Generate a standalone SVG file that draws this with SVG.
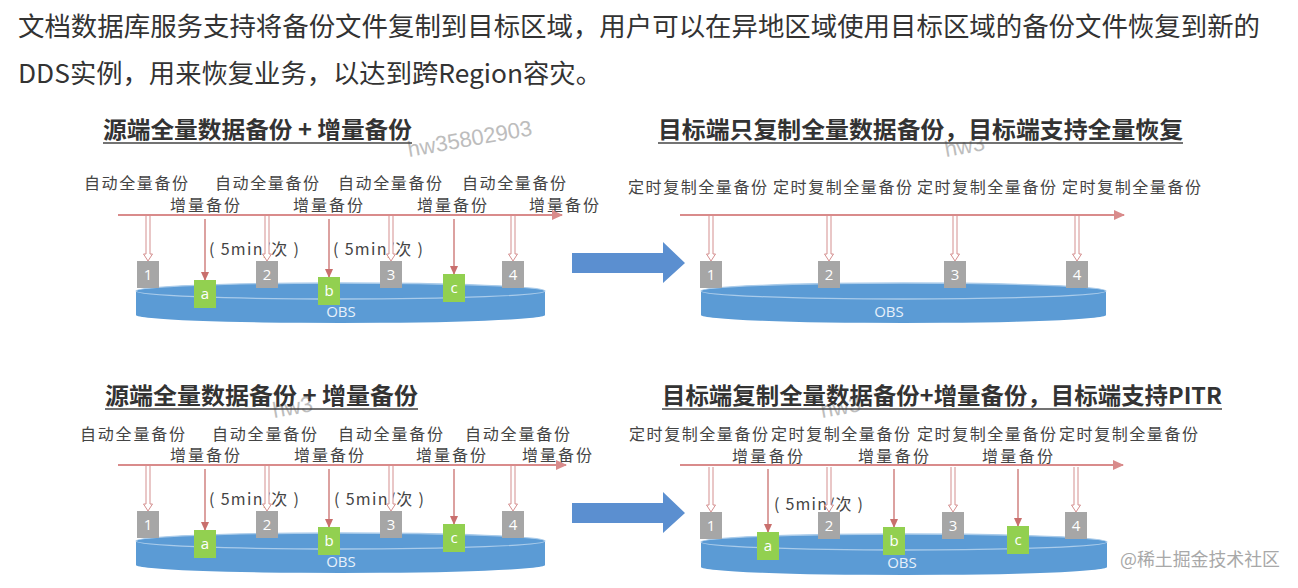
<svg xmlns="http://www.w3.org/2000/svg" width="1298" height="588" viewBox="0 0 1298 588">
<style>
text{font-family:"Noto Sans CJK SC","Noto Sans",sans-serif}
.hdr{font-size:26px;fill:#333}
.ttl{font-size:23px;font-weight:bold;fill:#333}
.ul{stroke:#444;stroke-width:1.6}
.lbl{font-size:16px;fill:#444}
.gb{fill:#A6A6A6}
.nb{fill:#92D050}
.bt{font-family:"Open Sans","Noto Sans",sans-serif;font-size:15px;fill:#fff;text-anchor:middle}
.cyl{fill:#5B9BD5}
.cyt{fill:#5B9BD5;stroke:#A9CBEA;stroke-width:1.3}
.obs{font-family:"Open Sans","Noto Sans",sans-serif;font-size:15px;fill:#E6F0FA;text-anchor:middle}
.tl{stroke:#D98B8B;stroke-width:2;fill:none}
.inc{stroke:#C96F6D;stroke-width:1.3;fill:none}
.fa{fill:#fff;stroke:#D48F8F;stroke-width:1}
.big{fill:#5B8FD0}
.wm{font-family:"Liberation Sans",sans-serif;font-size:22px;fill:#BDBDBD}
.wm2{font-size:18px;fill:#A8A8A8}
</style>
<defs>
<marker id="ta" markerUnits="userSpaceOnUse" markerWidth="12" markerHeight="10" refX="10" refY="5" orient="auto"><path d="M0,0 L11,5 L0,10 Z" fill="#D98B8B"/></marker>
<marker id="ia" markerUnits="userSpaceOnUse" markerWidth="10" markerHeight="8" refX="8" refY="4" orient="auto"><path d="M0,0 L9,4 L0,8 Z" fill="#C96F6D"/></marker>
<path id="fa" class="fa" d="M-2,1 V39 H-4.5 L0,46 L4.5,39 H2 V1"/>
<path id="big" class="big" d="M0,11 H91 V0 L113,21 L91,41 V31 H0 Z"/>
</defs>

<g id="header">
<text class="hdr" x="18" y="36" textLength="1242" lengthAdjust="spacingAndGlyphs">文档数据库服务支持将备份文件复制到目标区域，用户可以在异地区域使用目标区域的备份文件恢复到新的</text>
<text class="hdr" x="18" y="83" textLength="584" lengthAdjust="spacingAndGlyphs">DDS实例，用来恢复业务，以达到跨Region容灾。</text>
</g>

<g id="watermarks">
<text class="wm" x="409" y="157" transform="rotate(-10 409 157)">hw35802903</text>
<text class="wm" x="946" y="157" transform="rotate(-10 946 157)">hw3</text>
<text class="wm" x="274" y="418" transform="rotate(-10 274 418)">hw3</text>
<text class="wm" x="822" y="418" transform="rotate(-10 822 418)">hw3</text>
<text class="wm2" x="1120" y="566" textLength="160" lengthAdjust="spacingAndGlyphs">@稀土掘金技术社区</text>
</g>

<!-- Titles -->
<g id="title-tl"><text class="ttl" x="103" y="138" textLength="309" lengthAdjust="spacingAndGlyphs">源端全量数据备份 + 增量备份</text><line class="ul" x1="103" y1="143" x2="412" y2="143"/></g>
<g id="title-tr"><text class="ttl" x="658" y="138" textLength="525" lengthAdjust="spacingAndGlyphs">目标端只复制全量数据备份，目标端支持全量恢复</text><line class="ul" x1="658" y1="143" x2="1183" y2="143"/></g>
<g id="title-bl"><text class="ttl" x="105" y="404" textLength="313" lengthAdjust="spacingAndGlyphs">源端全量数据备份 + 增量备份</text><line class="ul" x1="105" y1="409" x2="418" y2="409"/></g>
<g id="title-br"><text class="ttl" x="662" y="404" textLength="560" lengthAdjust="spacingAndGlyphs">目标端复制全量数据备份+增量备份，目标端支持PITR</text><line class="ul" x1="662" y1="409" x2="1222" y2="409"/></g>

<!-- Labels -->
<g id="labels-tl">
<text class="lbl" x="84" y="189" textLength="104">自动全量备份</text>
<text class="lbl" x="215" y="189" textLength="104">自动全量备份</text>
<text class="lbl" x="338" y="189" textLength="104">自动全量备份</text>
<text class="lbl" x="462" y="189" textLength="104">自动全量备份</text>
<text class="lbl" x="170" y="211" textLength="70">增量备份</text>
<text class="lbl" x="293" y="211" textLength="70">增量备份</text>
<text class="lbl" x="417" y="211" textLength="70">增量备份</text>
<text class="lbl" x="529" y="211" textLength="70">增量备份</text>
<text class="lbl" x="209" y="255" textLength="90">( 5min/次 )</text>
<text class="lbl" x="333" y="255" textLength="90">( 5min/次 )</text>
</g>
<g id="labels-tr">
<text class="lbl" x="628" y="193" textLength="139">定时复制全量备份</text>
<text class="lbl" x="773" y="193" textLength="139">定时复制全量备份</text>
<text class="lbl" x="917" y="193" textLength="139">定时复制全量备份</text>
<text class="lbl" x="1062" y="193" textLength="139">定时复制全量备份</text>
</g>
<g id="labels-bl">
<text class="lbl" x="80" y="440" textLength="105">自动全量备份</text>
<text class="lbl" x="212" y="440" textLength="105">自动全量备份</text>
<text class="lbl" x="338" y="440" textLength="105">自动全量备份</text>
<text class="lbl" x="465" y="440" textLength="105">自动全量备份</text>
<text class="lbl" x="170" y="461" textLength="70">增量备份</text>
<text class="lbl" x="294" y="461" textLength="70">增量备份</text>
<text class="lbl" x="416" y="461" textLength="70">增量备份</text>
<text class="lbl" x="522" y="461" textLength="70">增量备份</text>
<text class="lbl" x="209" y="505" textLength="90">( 5min/次 )</text>
<text class="lbl" x="334" y="505" textLength="90">( 5min/次 )</text>
</g>
<g id="labels-br">
<text class="lbl" x="629" y="440" textLength="139">定时复制全量备份</text>
<text class="lbl" x="771" y="440" textLength="139">定时复制全量备份</text>
<text class="lbl" x="917" y="440" textLength="139">定时复制全量备份</text>
<text class="lbl" x="1059" y="440" textLength="139">定时复制全量备份</text>
<text class="lbl" x="732" y="462" textLength="71">增量备份</text>
<text class="lbl" x="858" y="462" textLength="71">增量备份</text>
<text class="lbl" x="982" y="462" textLength="71">增量备份</text>
<text class="lbl" x="774" y="510" textLength="89">( 5min/次 )</text>
</g>

<!-- Cylinders -->
<g id="obs-tl"><path class="cyl" d="M136,291 V315 A204.5,8 0 0 0 545,315 V291 Z"/><ellipse class="cyt" cx="340.5" cy="291" rx="204.5" ry="8"/><text class="obs" x="341" y="317">OBS</text></g>
<g id="obs-tr"><path class="cyl" d="M701,291 V315 A202.5,8 0 0 0 1106,315 V291 Z"/><ellipse class="cyt" cx="903.5" cy="291" rx="202.5" ry="8"/><text class="obs" x="889" y="317">OBS</text></g>
<g id="obs-bl"><path class="cyl" d="M136,541 V565 A204.5,8 0 0 0 545,565 V541 Z"/><ellipse class="cyt" cx="340.5" cy="541" rx="204.5" ry="8"/><text class="obs" x="341" y="567">OBS</text></g>
<g id="obs-br"><path class="cyl" d="M701,542 V567 A203,8 0 0 0 1107,567 V542 Z"/><ellipse class="cyt" cx="904" cy="542" rx="203" ry="8"/><text class="obs" x="902" y="568">OBS</text></g>

<!-- Big arrows -->
<g id="arrow-top"><use href="#big" x="572" y="242"/></g>
<g id="arrow-bottom"><use href="#big" x="572" y="492"/></g>

<!-- Connectors -->
<g id="connectors">
<line class="tl" x1="118" y1="215" x2="562" y2="215" marker-end="url(#ta)"/>
<line class="tl" x1="680" y1="215" x2="1124" y2="215" marker-end="url(#ta)"/>
<line class="tl" x1="118" y1="465" x2="566" y2="465" marker-end="url(#ta)"/>
<line class="tl" x1="680" y1="465" x2="1123" y2="465" marker-end="url(#ta)"/>
<use href="#fa" x="148" y="215"/><use href="#fa" x="267" y="215"/><use href="#fa" x="391" y="215"/><use href="#fa" x="513" y="215"/>
<use href="#fa" x="711" y="215"/><use href="#fa" x="829" y="215"/><use href="#fa" x="955" y="215"/><use href="#fa" x="1077" y="215"/>
<use href="#fa" x="148" y="465"/><use href="#fa" x="267" y="465"/><use href="#fa" x="391" y="465"/><use href="#fa" x="513" y="465"/>
<use href="#fa" x="711" y="466"/><use href="#fa" x="829" y="466"/><use href="#fa" x="953" y="466"/><use href="#fa" x="1076" y="466"/>
<line class="inc" x1="205" y1="219" x2="205" y2="280" marker-end="url(#ia)"/>
<line class="inc" x1="329" y1="219" x2="329" y2="277" marker-end="url(#ia)"/>
<line class="inc" x1="454" y1="219" x2="454" y2="274" marker-end="url(#ia)"/>
<line class="inc" x1="205" y1="469" x2="205" y2="530" marker-end="url(#ia)"/>
<line class="inc" x1="329" y1="469" x2="329" y2="527" marker-end="url(#ia)"/>
<line class="inc" x1="454" y1="469" x2="454" y2="524" marker-end="url(#ia)"/>
<line class="inc" x1="768" y1="469" x2="768" y2="532" marker-end="url(#ia)"/>
<line class="inc" x1="894" y1="469" x2="894" y2="527" marker-end="url(#ia)"/>
<line class="inc" x1="1018" y1="469" x2="1018" y2="526" marker-end="url(#ia)"/>
</g>

<!-- Boxes top-left -->
<g id="tl-1"><rect class="gb" x="137" y="261" width="22" height="27"/><text class="bt" x="148" y="280">1</text></g>
<g id="tl-a"><rect class="nb" x="194" y="280" width="22" height="28"/><text class="bt" x="205" y="299">a</text></g>
<g id="tl-2"><rect class="gb" x="256" y="261" width="22" height="27"/><text class="bt" x="267" y="280">2</text></g>
<g id="tl-b"><rect class="nb" x="318" y="277" width="22" height="28"/><text class="bt" x="329" y="296">b</text></g>
<g id="tl-3"><rect class="gb" x="380" y="261" width="22" height="27"/><text class="bt" x="391" y="280">3</text></g>
<g id="tl-c"><rect class="nb" x="443" y="274" width="22" height="28"/><text class="bt" x="454" y="293">c</text></g>
<g id="tl-4"><rect class="gb" x="502" y="261" width="22" height="27"/><text class="bt" x="513" y="280">4</text></g>
<!-- Boxes top-right -->
<g id="tr-1"><rect class="gb" x="700" y="261" width="22" height="27"/><text class="bt" x="711" y="280">1</text></g>
<g id="tr-2"><rect class="gb" x="818" y="261" width="22" height="27"/><text class="bt" x="829" y="280">2</text></g>
<g id="tr-3"><rect class="gb" x="944" y="261" width="22" height="27"/><text class="bt" x="955" y="280">3</text></g>
<g id="tr-4"><rect class="gb" x="1066" y="261" width="22" height="27"/><text class="bt" x="1077" y="280">4</text></g>
<!-- Boxes bottom-left -->
<g id="bl-1"><rect class="gb" x="137" y="511" width="22" height="27"/><text class="bt" x="148" y="530">1</text></g>
<g id="bl-a"><rect class="nb" x="194" y="530" width="22" height="28"/><text class="bt" x="205" y="549">a</text></g>
<g id="bl-2"><rect class="gb" x="256" y="511" width="22" height="27"/><text class="bt" x="267" y="530">2</text></g>
<g id="bl-b"><rect class="nb" x="318" y="527" width="22" height="28"/><text class="bt" x="329" y="546">b</text></g>
<g id="bl-3"><rect class="gb" x="380" y="511" width="22" height="27"/><text class="bt" x="391" y="530">3</text></g>
<g id="bl-c"><rect class="nb" x="443" y="524" width="22" height="28"/><text class="bt" x="454" y="543">c</text></g>
<g id="bl-4"><rect class="gb" x="502" y="511" width="22" height="27"/><text class="bt" x="513" y="530">4</text></g>
<!-- Boxes bottom-right -->
<g id="br-1"><rect class="gb" x="700" y="512" width="22" height="27"/><text class="bt" x="711" y="531">1</text></g>
<g id="br-a"><rect class="nb" x="757" y="532" width="22" height="28"/><text class="bt" x="768" y="551">a</text></g>
<g id="br-2"><rect class="gb" x="818" y="512" width="22" height="27"/><text class="bt" x="829" y="531">2</text></g>
<g id="br-b"><rect class="nb" x="883" y="527" width="22" height="28"/><text class="bt" x="894" y="546">b</text></g>
<g id="br-3"><rect class="gb" x="942" y="512" width="22" height="27"/><text class="bt" x="953" y="531">3</text></g>
<g id="br-c"><rect class="nb" x="1007" y="526" width="22" height="28"/><text class="bt" x="1018" y="545">c</text></g>
<g id="br-4"><rect class="gb" x="1065" y="512" width="22" height="27"/><text class="bt" x="1076" y="531">4</text></g>
</svg>
